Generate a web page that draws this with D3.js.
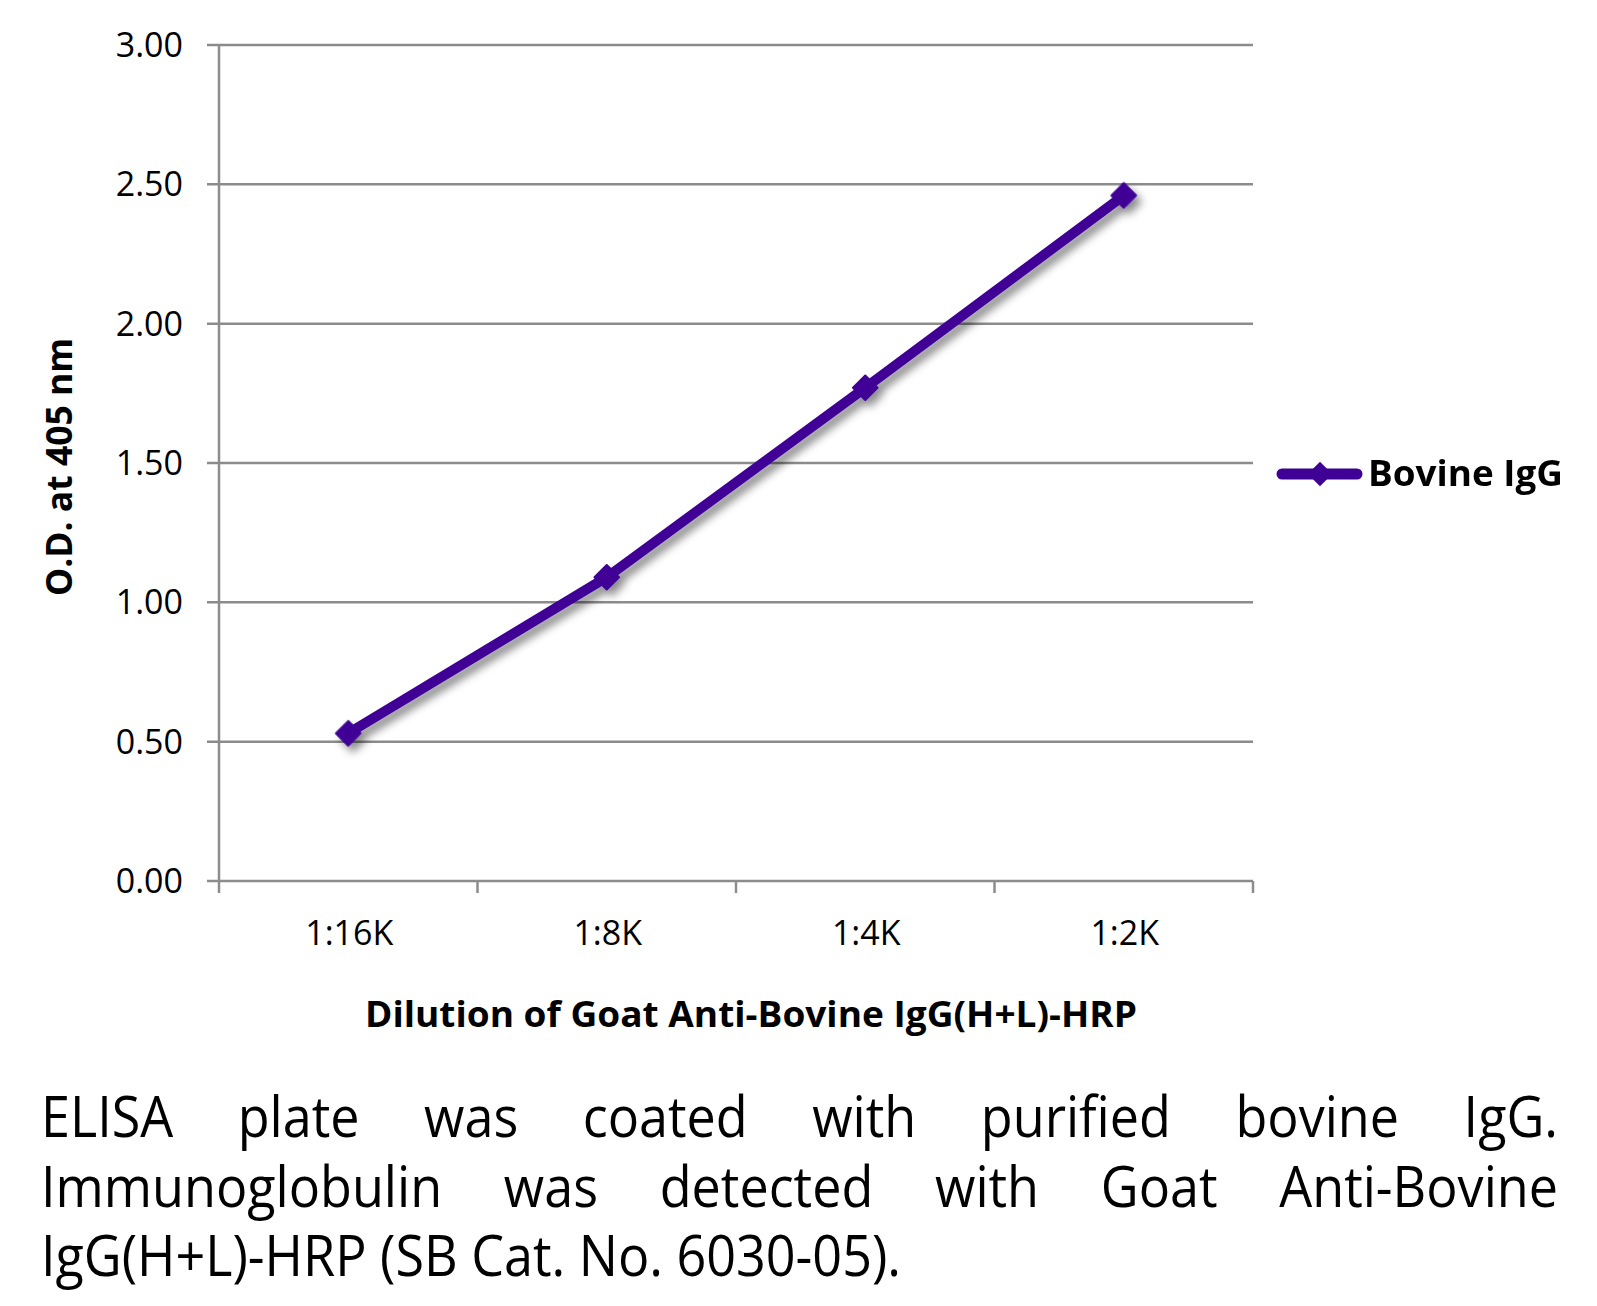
<!DOCTYPE html>
<html>
<head>
<meta charset="utf-8">
<script src="https://cdn.jsdelivr.net/npm/d3@7"></script>
<style>
  html, body { margin: 0; padding: 0; background: #fff; }
  svg { display: block; }
</style>
</head>
<body>
<svg id="chart" width="1597" height="1306"></svg>
<script>
// ---- data ----
const categories = ["1:16K", "1:8K", "1:4K", "1:2K"];
const seriesName = "Bovine IgG";
const values = [0.53, 1.09, 1.77, 2.46];
const yTicks = [0, 0.5, 1.0, 1.5, 2.0, 2.5, 3.0];
const yTitle = "O.D. at 405 nm";
const xTitle = "Dilution of Goat Anti-Bovine IgG(H+L)-HRP";
const captionLines = [
  "ELISA plate was coated with purified bovine IgG.",
  "Immunoglobulin was detected with Goat Anti-Bovine",
  "IgG(H+L)-HRP (SB Cat. No. 6030-05)."
];

(function () {
// ---- layout ----
const svg = d3.select("#chart");
const font = "'Open Sans', 'DejaVu Sans', sans-serif";
const pL = 219, pR = 1253, pT = 45, pB = 881;
const gridColor = "#8c8c8c";
const lineColor = "#3f0096";

const x = d3.scaleBand().domain(categories).range([pL, pR]).padding(0);
const y = d3.scaleLinear().domain([0, 3]).range([pB, pT]);

const defs = svg.append("defs");
const f = defs.append("filter").attr("id", "shadow")
  .attr("x", "-10%").attr("y", "-10%").attr("width", "130%").attr("height", "130%");
f.append("feDropShadow").attr("dx", 5).attr("dy", 6).attr("stdDeviation", 4)
  .attr("flood-color", "#000").attr("flood-opacity", 0.45);

// gridlines (incl. baseline)
svg.append("g").selectAll("line").data(yTicks).join("line")
  .attr("x1", pL - 12).attr("x2", pR)
  .attr("y1", d => y(d)).attr("y2", d => y(d))
  .attr("stroke", gridColor).attr("stroke-width", 2.5);

// y axis line
svg.append("line").attr("x1", pL).attr("x2", pL)
  .attr("y1", y(3)).attr("y2", y(0))
  .attr("stroke", gridColor).attr("stroke-width", 2.5);

// x ticks at band boundaries
const xb = categories.map(c => x(c)).concat([x(categories[categories.length - 1]) + x.bandwidth()]);
svg.append("g").selectAll("line").data(xb).join("line")
  .attr("x1", d => d).attr("x2", d => d)
  .attr("y1", y(0)).attr("y2", y(0) + 12)
  .attr("stroke", gridColor).attr("stroke-width", 2.5);

// y tick labels
svg.append("g").selectAll("text").data(yTicks).join("text")
  .attr("x", 183).attr("y", d => y(d) + 12)
  .attr("text-anchor", "end")
  .attr("font-family", font).attr("font-size", 34)
  .attr("fill", "#000")
  .text(d => d3.format(".2f")(d));

// x tick labels
svg.append("g").selectAll("text").data(categories).join("text")
  .attr("x", d => x(d) + x.bandwidth() / 2 + 1).attr("y", 945)
  .attr("text-anchor", "middle")
  .attr("font-family", font).attr("font-size", 34)
  .attr("fill", "#000")
  .text(d => d);

// axis titles
svg.append("text")
  .attr("transform", "translate(72,467) rotate(-90)")
  .attr("text-anchor", "middle")
  .attr("font-family", font).attr("font-weight", "bold").attr("font-size", 35)
  .attr("textLength", 258).attr("lengthAdjust", "spacingAndGlyphs")
  .text(yTitle);

svg.append("text")
  .attr("x", 751).attr("y", 1027)
  .attr("text-anchor", "middle")
  .attr("font-family", font).attr("font-weight", "bold").attr("font-size", 35)
  .attr("textLength", 772).attr("lengthAdjust", "spacingAndGlyphs")
  .text(xTitle);

// series
const pts = categories.map((c, i) => ({ c, v: values[i] }));
const gS = svg.append("g").attr("filter", "url(#shadow)");
gS.append("path").datum(pts)
  .attr("d", d3.line().x(d => x(d.c) + x.bandwidth() / 2).y(d => y(d.v)))
  .attr("fill", "none").attr("stroke", lineColor).attr("stroke-width", 10)
  .attr("stroke-linejoin", "round").attr("stroke-linecap", "round");
const sym = d3.symbol().type(d3.symbolSquare).size(300);
gS.selectAll(".mk").data(pts).join("path").attr("class", "mk")
  .attr("transform", d => `translate(${x(d.c) + x.bandwidth() / 2},${y(d.v)}) rotate(45)`)
  .attr("d", sym).attr("fill", lineColor).attr("stroke", lineColor).attr("stroke-width", 2)
  .attr("stroke-linejoin", "round");

// legend
const lg = svg.append("g");
lg.append("line").attr("x1", 1282).attr("x2", 1357).attr("y1", 474).attr("y2", 474)
  .attr("stroke", lineColor).attr("stroke-width", 11).attr("stroke-linecap", "round");
lg.append("path").attr("transform", "translate(1320,474) rotate(45)")
  .attr("d", sym).attr("fill", lineColor);
lg.append("text").attr("x", 1368).attr("y", 486)
  .attr("font-family", font).attr("font-weight", "bold").attr("font-size", 35)
  .attr("textLength", 195).attr("lengthAdjust", "spacingAndGlyphs")
  .text(seriesName);

// caption (justified)
const capLeft = 41, capRight = 1558, capSize = 56;
const baselines = [1137, 1207, 1276];
const cap = svg.append("g").attr("font-family", font).attr("font-size", capSize).attr("fill", "#000");
const probe = cap.append("text").text(captionLines[2]);
const k = 860 / probe.node().getComputedTextLength();
probe.remove();
captionLines.forEach((line, li) => {
  const words = line.split(" ");
  if (li === captionLines.length - 1) {
    cap.append("text").attr("x", capLeft).attr("y", baselines[li])
      .attr("textLength", 860).attr("lengthAdjust", "spacingAndGlyphs").text(line);
    return;
  }
  const nodes = words.map(w => cap.append("text").attr("y", baselines[li]).text(w));
  const widths = nodes.map(n => n.node().getComputedTextLength() * k);
  const total = d3.sum(widths);
  const gap = (capRight - capLeft - total) / (words.length - 1);
  let cx = capLeft;
  nodes.forEach((n, i) => {
    n.attr("x", cx).attr("textLength", widths[i]).attr("lengthAdjust", "spacingAndGlyphs");
    cx += widths[i] + gap;
  });
});
})();
</script>
</body>
</html>
